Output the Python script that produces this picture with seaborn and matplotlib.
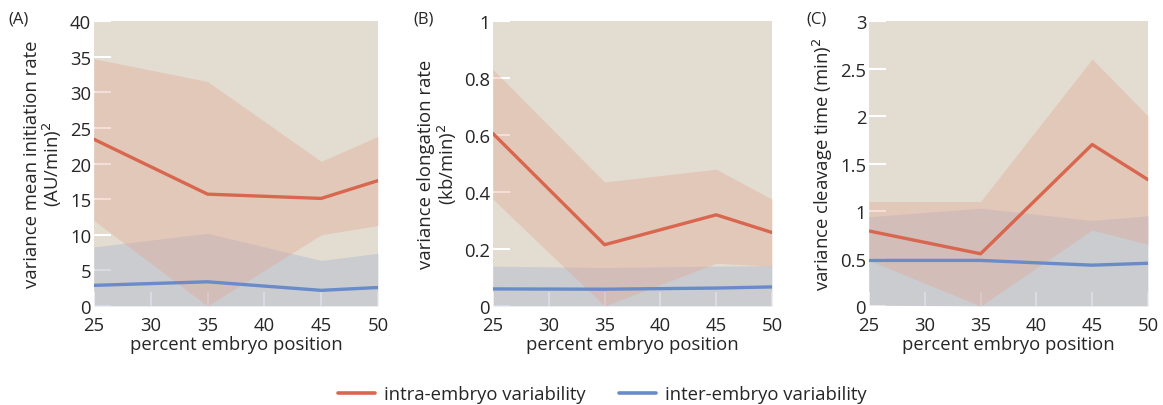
import numpy as np
import pandas as pd
import seaborn as sns
import matplotlib.pyplot as plt
from matplotlib.ticker import FuncFormatter
from matplotlib.lines import Line2D

pos = [25, 35, 45, 50]

# (A) mean initiation rate
a_intra = [23.4, 15.7, 15.1, 17.6]
a_intra_lo = [12.0, 0.0, 10.0, 11.3]
a_intra_hi = [34.7, 31.5, 20.3, 23.8]
a_inter = [2.9, 3.4, 2.2, 2.6]
a_inter_lo = [0.0, 0.0, 0.0, 0.0]
a_inter_hi = [8.3, 10.2, 6.4, 7.4]

# (B) elongation rate
b_intra = [0.605, 0.215, 0.32, 0.258]
b_intra_lo = [0.375, 0.0, 0.15, 0.14]
b_intra_hi = [0.83, 0.435, 0.48, 0.375]
b_inter = [0.060, 0.059, 0.063, 0.067]
b_inter_lo = [0.0, 0.0, 0.0, 0.0]
b_inter_hi = [0.14, 0.135, 0.14, 0.142]

# (C) cleavage time
c_intra = [0.79, 0.55, 1.70, 1.33]
c_intra_lo = [0.48, 0.0, 0.80, 0.65]
c_intra_hi = [1.10, 1.10, 2.60, 2.00]
c_inter = [0.48, 0.48, 0.43, 0.45]
c_inter_lo = [0.01, 0.0, 0.0, 0.0]
c_inter_hi = [0.94, 1.03, 0.90, 0.95]

panels = [
    ('(A)', 'variance mean initiation rate\n(AU/min)$^2$', 40, [0, 5, 10, 15, 20, 25, 30, 35, 40],
     a_intra, a_intra_lo, a_intra_hi, a_inter, a_inter_lo, a_inter_hi),
    ('(B)', 'variance elongation rate\n(kb/min)$^2$', 1, [0, 0.2, 0.4, 0.6, 0.8, 1],
     b_intra, b_intra_lo, b_intra_hi, b_inter, b_inter_lo, b_inter_hi),
    ('(C)', 'variance cleavage time (min)$^2$', 3, [0, 0.5, 1, 1.5, 2, 2.5, 3],
     c_intra, c_intra_lo, c_intra_hi, c_inter, c_inter_lo, c_inter_hi),
]

red = '#d9664f'
blue = '#6a8bc9'
bg = '#e3dcd0'
fs = 13.3

sns.set_theme(style='white')
plt.rcParams['font.family'] = ['Open Sans', 'DejaVu Sans']

fig = plt.figure(figsize=(11.63, 4.06), dpi=100)
lefts = [0.0808, 0.4239, 0.7472]
widths = [0.2442, 0.2399, 0.2399]
label_x = [8 / 1163, 413 / 1163, 806 / 1163]

for (lab, ylab, ymax, yt, intra, ilo, ihi, inter, elo, ehi), l, w, lx in zip(panels, lefts, widths, label_x):
    ax = fig.add_axes([l, 0.2438, w, 0.702])
    ax.set_facecolor(bg)
    ax.fill_between(pos, elo, ehi, color='#b9bfd0', alpha=0.55, lw=0)
    ax.fill_between(pos, ilo, ihi, color='#e2a38f', alpha=0.35, lw=0)
    df = pd.DataFrame({'pos': pos * 2,
                       'val': list(intra) + list(inter),
                       'kind': ['intra'] * 4 + ['inter'] * 4})
    sns.lineplot(data=df, x='pos', y='val', hue='kind',
                 palette={'intra': red, 'inter': blue}, lw=2.4, legend=False, ax=ax)
    ax.set_xlim(25, 50)
    ax.set_ylim(0, ymax)
    ax.set_xticks([25, 30, 35, 40, 45, 50])
    ax.set_yticks(yt)
    ax.yaxis.set_major_formatter(FuncFormatter(lambda v, p: '%g' % v))
    for s in ax.spines.values():
        s.set_visible(False)
    ax.tick_params(axis='y', direction='in', length=12, width=1.5, color='white',
                   labelsize=fs, pad=2, left=True)
    ax.tick_params(axis='x', direction='in', length=10, width=1.5, color='white',
                   labelsize=fs, pad=7, bottom=True)
    ax.set_xlabel('percent embryo position', fontsize=fs, labelpad=1)
    ax.set_ylabel(ylab, fontsize=fs, labelpad=4, linespacing=1.0)
    fig.text(lx, 0.951, lab, fontsize=12, va='center', ha='left')

handles = [Line2D([0], [0], color=red, lw=2.6), Line2D([0], [0], color=blue, lw=2.6)]
fig.legend(handles, ['intra-embryo variability', 'inter-embryo variability'],
           loc='center', bbox_to_anchor=(0.518, 0.027), ncol=2, frameon=False,
           fontsize=fs, handlelength=2.0, handletextpad=0.5, columnspacing=1.8)

fig.savefig('out.png', dpi=100)
